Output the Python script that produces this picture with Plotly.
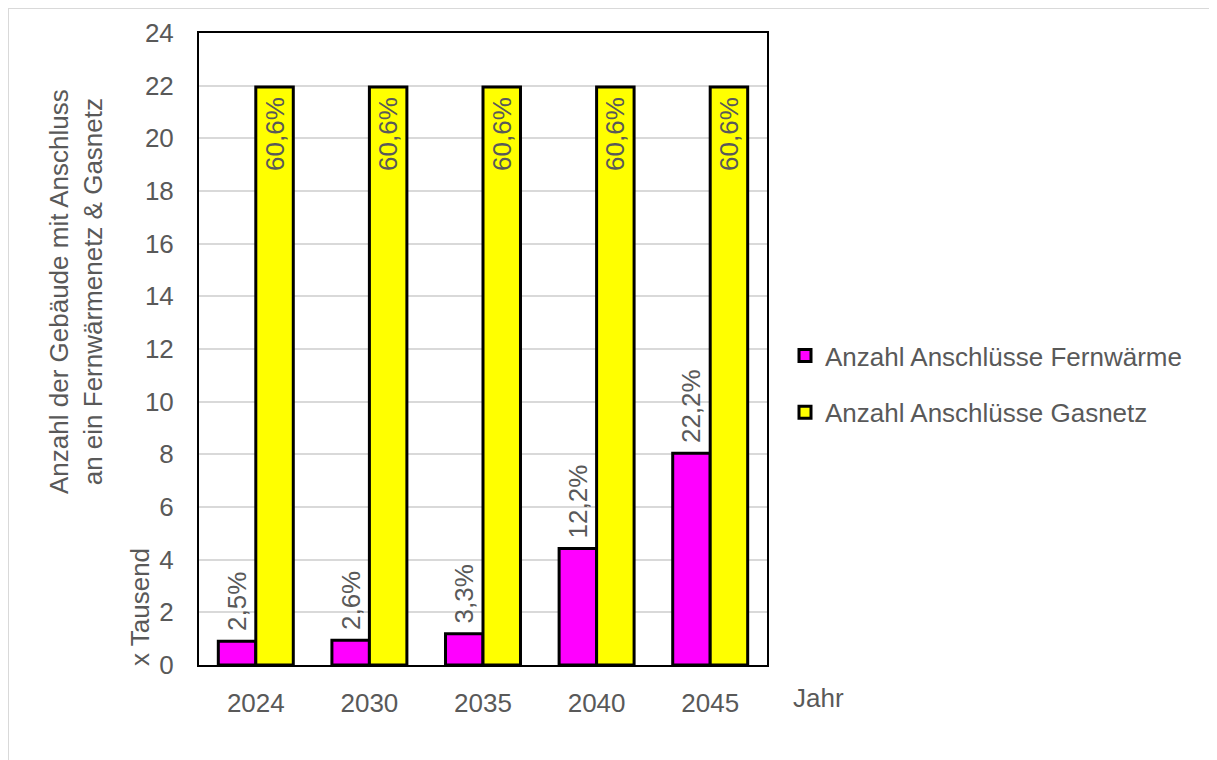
import plotly.graph_objects as go

years = ["2024", "2030", "2035", "2040", "2045"]
fernwaerme = [0.905, 0.94, 1.19, 4.42, 8.04]
gasnetz = [21.95, 21.95, 21.95, 21.95, 21.95]
fern_labels = ["2,5%", "2,6%", "3,3%", "12,2%", "22,2%"]
gas_labels = ["60,6%", "60,6%", "60,6%", "60,6%", "60,6%"]
y_ticks = list(range(0, 25, 2))

FONT = "Liberation Sans, Arial, sans-serif"
GREY = "#595959"
FS = 26
PAD = "\u00a0"  # small gap between label and bar edge

# page body has an 8px margin; coordinates below are in reference-pixel space
OFF = 8
W, H = 1217 - OFF, 760 - OFF
L, R, T, B = 199 - OFF, 767 - OFF, 33 - OFF, 665 - OFF
pw, ph = R - L, B - T


def px(xp):
    return (xp - OFF - L) / pw


def py(yp):
    return (B - (yp - OFF)) / ph


fig = go.Figure()
fig.add_trace(go.Bar(
    x=years, y=fernwaerme, name="Anzahl Anschlüsse Fernwärme",
    marker=dict(color="#ff00ff", line=dict(color="black", width=3)),
    text=[PAD + t for t in fern_labels], textposition="outside", textangle=-90,
    constraintext="none",
    textfont=dict(family=FONT, size=FS, color=GREY), cliponaxis=False,
    legendgroup="a",
))
fig.add_trace(go.Bar(
    x=years, y=gasnetz, name="Anzahl Anschlüsse Gasnetz",
    marker=dict(color="#ffff00", line=dict(color="black", width=3)),
    text=[t + PAD for t in gas_labels], textposition="inside",
    insidetextanchor="end", textangle=-90,
    constraintext="none",
    textfont=dict(family=FONT, size=FS, color=GREY),
    legendgroup="b",
))

fig.update_layout(
    width=W, height=H,
    margin=dict(l=L, r=W - R, t=T, b=H - B, autoexpand=False),
    paper_bgcolor="white", plot_bgcolor="white",
    barmode="group", bargap=0.34, bargroupgap=0,
    font=dict(family=FONT, size=FS, color=GREY),
    showlegend=True,
    legend=dict(
        x=px(785), y=py(332), xanchor="left", yanchor="top",
        font=dict(family=FONT, size=FS, color=GREY),
        traceorder="grouped", tracegroupgap=20,
        bgcolor="rgba(0,0,0,0)",
    ),
    xaxis=dict(
        showline=True, linecolor="black", linewidth=2, mirror=True,
        showgrid=False, ticks="", ticklabelstandoff=14,
        tickfont=dict(family=FONT, size=FS, color=GREY),
    ),
    yaxis=dict(
        range=[0, 24], tickvals=y_ticks,
        showline=True, linecolor="black", linewidth=2, mirror=True,
        showgrid=True, gridcolor="#d9d9d9", gridwidth=2,
        zeroline=False, ticks="", ticklabelstandoff=18,
        tickfont=dict(family=FONT, size=FS, color=GREY),
    ),
    annotations=[
        dict(text="Anzahl der Gebäude mit Anschluss<br>an ein Fernwärmenetz & Gasnetz",
             xref="paper", yref="paper", x=px(76), y=py(292), textangle=-90,
             showarrow=False, font=dict(family=FONT, size=FS, color=GREY),
             xanchor="center", yanchor="middle"),
        dict(text="x Tausend", xref="paper", yref="paper", x=px(140), y=py(607),
             textangle=-90, showarrow=False,
             font=dict(family=FONT, size=FS, color=GREY),
             xanchor="center", yanchor="middle"),
        dict(text="Jahr", xref="paper", yref="paper", x=px(818), y=py(698),
             showarrow=False, font=dict(family=FONT, size=FS, color=GREY),
             xanchor="center", yanchor="middle"),
    ],
    shapes=[
        dict(type="line", xref="paper", yref="paper", x0=px(8), x1=px(1240),
             y0=py(8), y1=py(8), line=dict(color="#d9d9d9", width=2)),
        dict(type="line", xref="paper", yref="paper", x0=px(8), x1=px(8),
             y0=py(8), y1=py(790), line=dict(color="#d9d9d9", width=2)),
    ],
)

fig.write_html("out.html")
